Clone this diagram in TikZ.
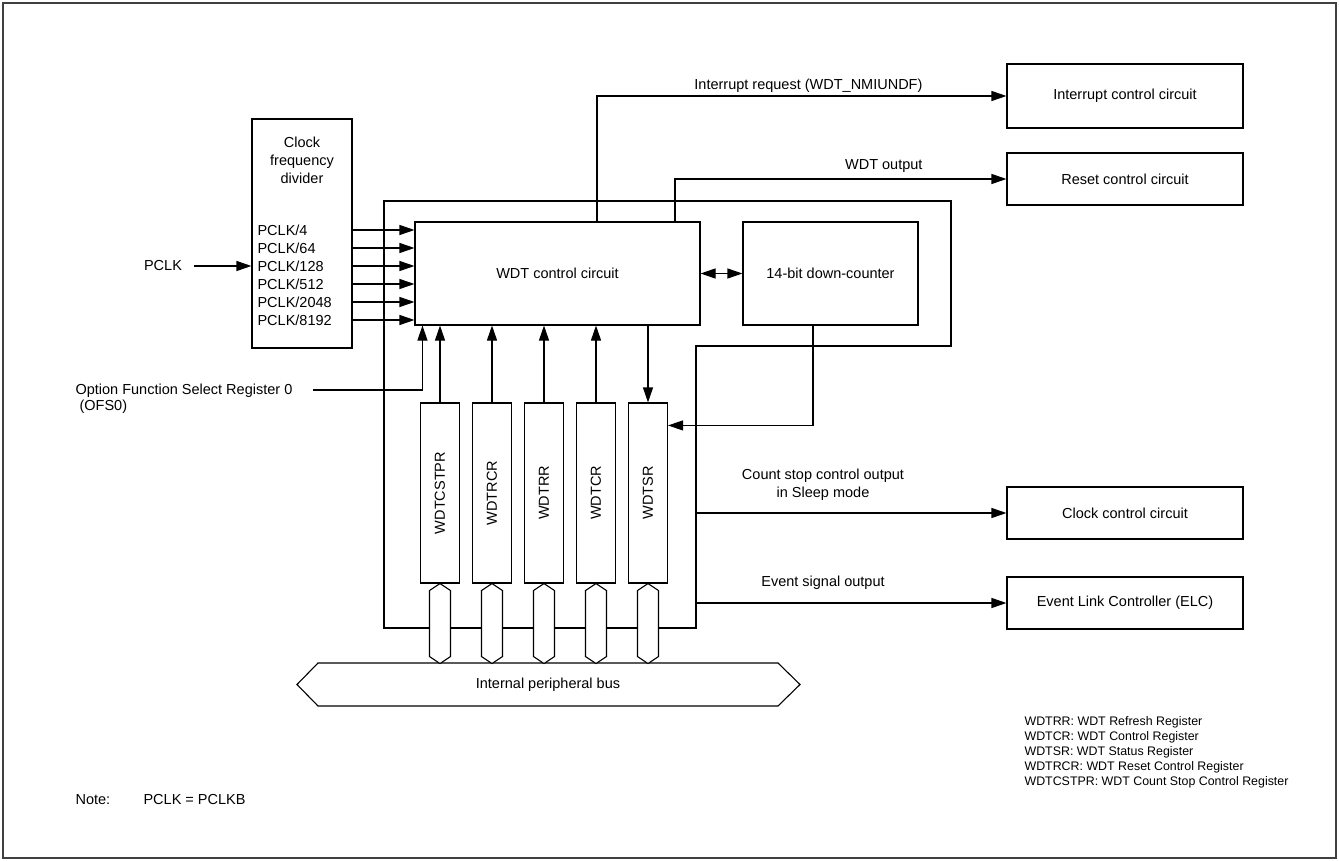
\documentclass[tikz,border=0pt]{standalone}
\usepackage{fontspec}
\setmainfont{Liberation Sans}
\usetikzlibrary{positioning,arrows.meta}

\begin{document}
\begin{tikzpicture}[x=1pt,y=-1pt,line width=1.1pt,
  every node/.style={font=\fontsize{14.5pt}{18pt}\selectfont},
  lbl/.style={inner sep=0pt},
  blk/.style={draw,inner sep=0pt,minimum width=236pt,minimum height=52pt},
  regbox/.style={draw,inner sep=0pt,minimum width=39pt,minimum height=180pt},
  sig/.style={-{Triangle[length=15pt,width=10pt]}},
  lozenge/.style={draw,fill=white}]
\useasboundingbox (0,0) rectangle (1339,861);
\draw[black!75] (3,3) rectangle (1336,858);
% clock divider
\node[draw,inner sep=0pt,minimum width=100pt,minimum height=229pt] (div) at (302,233.5) {};
\node[lbl,align=center] (divname) at (302,160) {Clock\\frequency\\divider};
\node[lbl] (pclk) at (163,266) {PCLK};
\draw[sig] ([xshift=12pt]pclk.east) -- (div.west |- pclk);
% WDT core
\node[draw,inner sep=0pt,minimum width=285pt,minimum height=103pt] (wdt) at (557.5,273.5) {WDT control circuit};
\node[draw,inner sep=0pt,minimum width=175pt,minimum height=103pt] (cnt) at (830.5,273.5) {14-bit down-counter};
\draw[{Triangle[length=15pt,width=10pt]}-{Triangle[length=15pt,width=10pt]}] (wdt) -- (cnt);
\foreach \d [count=\i] in {4,64,128,512,2048,8192} {
  \node[lbl,anchor=west] (p\i) at (257,212+18*\i) {PCLK/\d};
  \draw[sig] (div.east |- p\i) -- (wdt.west |- p\i);
}
% module outline
\draw (384,201) -- (951,201) -- (951,346) -- (696,346) -- (696,628) -- (384,628) -- cycle;
% destinations
\node[blk,minimum height=64pt] (intc) at (1125,96) {Interrupt control circuit};
\node[blk] (rstc) at (1125,179) {Reset control circuit};
\node[blk] (clkc) at (1125,513) {Clock control circuit};
\node[blk] (elc) at (1125,603) {Event Link Controller (ELC)};
\draw[sig] ([xshift=39.5pt]wdt.north) |- (intc.west);
\node[lbl,anchor=base east] (irq) at (923,90) {Interrupt request (WDT\_NMIUNDF)};
\draw[sig] ([xshift=117.5pt]wdt.north) |- (rstc.west);
\node[lbl,anchor=base east] (wdtout) at (923,170) {WDT output};
\coordinate (cso) at (696,513);
\coordinate (eso) at (696,603);
\draw[sig] (cso) -- (clkc.west);
\draw[sig] (eso) -- (elc.west);
\node[lbl,align=center] (csolbl) at (823,485) {Count stop control output\\in Sleep mode};
\node[lbl] (esolbl) at (823,583) {Event signal output};
% registers
\foreach \r [count=\i] in {WDTCSTPR,WDTRCR,WDTRR,WDTCR,WDTSR}
  \node[regbox] (r\i) at (388+52*\i,493) {\rotatebox{90}{\r}};
\foreach \i in {1,...,4}
  \draw[sig] (r\i.north) -- (r\i.north |- wdt.south);
\draw[sig] (r5.north |- wdt.south) -- (r5.north);
\draw[sig] ([xshift=-17.5pt]cnt.south) |- ([yshift=-23pt]r5.north east);
% OFS0
\node[lbl,anchor=west,align=left,font=\fontsize{14.5pt}{16pt}\selectfont] (ofs) at (75,399) {Option Function Select Register 0\\\ (OFS0)};
\coordinate (ofsin) at (313,390);
\draw[sig] (ofsin) -| ([xshift=8pt]wdt.south west);
% bus
\draw (318,663) -- (778,663) -- (800,684.5) -- (778,706) -- (318,706) -- (297,684.5) -- cycle;
\node[lbl] (bus) at (548,685) {Internal peripheral bus};
\foreach \i in {1,...,5}
  \draw[lozenge] (r\i.south) -- ++(10.5,7) -- ++(0,66) -- ++(-10.5,7) -- ++(-10.5,-7) -- ++(0,-66) -- cycle;
% legend and note
\node[lbl,anchor=west,align=left,font=\fontsize{12.4pt}{15pt}\selectfont] (legend) at (1024,752)
  {WDTRR: WDT Refresh Register\\WDTCR: WDT Control Register\\WDTSR: WDT Status Register\\WDTRCR: WDT Reset Control Register\\WDTCSTPR: WDT Count Stop Control Register};
\node[lbl,anchor=west] (note) at (75,800) {Note:};
\node[lbl,anchor=west] (noteval) at (143,800) {PCLK = PCLKB};
\end{tikzpicture}
\end{document}
